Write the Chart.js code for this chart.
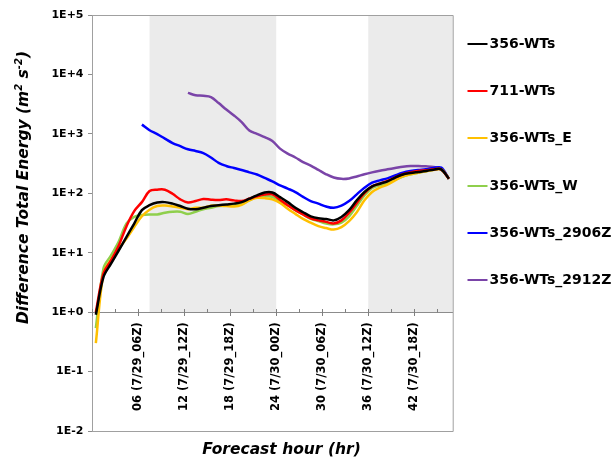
<!DOCTYPE html>
<html>
<head>
<meta charset="utf-8">
<style>
  html, body { margin: 0; padding: 0; background: #fff; }
  #wrap { width: 616px; height: 462px; }
</style>
<script src="https://cdn.jsdelivr.net/npm/chart.js@4.4.1/dist/chart.umd.min.js"></script>
</head>
<body>
<div id="wrap"><canvas id="c" width="616" height="462"></canvas></div>
<script>
// ---------------- data ----------------
const hours = [0.5, 1.5, 2.5, 3.5, 4.5, 5.5, 6.5, 7.5, 8.5, 9.5, 10.5, 11.5, 12.5, 13.5, 14.5, 15.5,
  16.5, 17.5, 18.5, 19.5, 20.5, 21.5, 22.5, 23.5, 24.5, 25.5, 26.5, 27.5, 28.5, 29.5, 30.5, 31.5,
  32.5, 33.5, 34.5, 35.5, 36.5, 37.5, 38.5, 39.5, 40.5, 41.5, 42.5, 43.5, 44.5, 45.5, 46.5];

const seriesNames = ['356-WTs', '711-WTs', '356-WTs_E', '356-WTs_W', '356-WTs_2906Z', '356-WTs_2912Z'];

const wts356 = [0.9, 3.9, 6.6, 11, 18.5, 31, 52, 63, 70, 71, 67, 61, 55, 54,
  57, 61, 63, 65, 67, 71, 81, 92, 103, 103, 86, 71, 57, 48, 41, 38,
  37, 35, 40, 52, 76, 105, 131, 145, 159, 184, 207, 219, 228, 237, 250, 253, 176];

const wts711 = [1.0, 4.5, 7.5, 13.4, 28, 50, 71, 109, 115, 115, 98, 79, 70, 74,
  80, 78, 77, 79, 76, 74, 81, 89, 95, 96, 78, 63, 52, 44, 38, 35,
  33, 31, 35, 47, 69, 101, 131, 145, 161, 184, 209, 225, 237, 244, 253, 253, 176];

const wts356E = [0.3, 4.5, 7.7, 11.8, 17.3, 27, 41, 53, 61, 62, 60, 57, 54, 57,
  57, 62, 62, 61, 60, 64, 76, 84, 83, 79, 69, 55, 45, 37, 32, 28,
  26, 24.5, 27, 34, 48, 76, 105, 124, 140, 165, 192, 209, 222, 234, 247, 253, 176];

const wts356W = [0.54, 5.5, 9.1, 15.6, 31, 40, 43, 44, 44, 47, 49, 49, 45, 49,
  54, 57, 61, 62, 63, 66, 76, 87, 90, 87, 74, 63, 52, 44, 37, 34,
  31, 30, 32, 41, 61, 92, 123, 136, 145, 170, 192, 209, 222, 234, 250, 253, 176];

const wts2906Z = [null, null, null, null, null, null,
  1430, 1150, 993, 830, 700, 620, 550, 515, 475, 400, 325, 288, 266, 246, 225, 207, 181, 159,
  136, 120, 105, 87, 74, 67, 60, 57, 62, 74, 96, 124, 151, 165, 178, 200, 222, 237, 247, 253, 266, 270, 176];

const wts2912Z = [null, null, null, null, null, null, null, null, null, null, null, null,
  4900, 4470, 4370, 4160, 3300, 2560, 2040, 1580, 1140, 1000, 880, 760, 565, 465, 400, 335,
  292, 247, 209, 184, 175, 178, 192, 209, 225, 240, 253, 266, 280, 288, 288, 284, 277, 257, 176];

const xTickValues = [0, 3, 6, 9, 12, 15, 18, 21, 24, 27, 30, 33, 36, 39, 42, 45];
const xTickLabels = ['', '', '06 (7/29_06Z)', '', '12 (7/29_12Z)', '', '18 (7/29_18Z)', '',
  '24 (7/30_00Z)', '', '30 (7/30_06Z)', '', '36 (7/30_12Z)', '', '42 (7/30_18Z)', ''];

const yTickValues = [0.01, 0.1, 1, 10, 100, 1000, 10000, 100000];
const yTickLabels = ['1E-2', '1E-1', '1E+0', '1E+1', '1E+2', '1E+3', '1E+4', '1E+5'];

// shaded periods [start hour, end hour]
const shadeStart = [7.5, 36];
const shadeEnd = [24, 47];

// ---------------- styling ----------------
const colors = ['#000000', '#ff0000', '#ffc000', '#8fcf4c', '#0000ff', '#7a44a8'];
const FONT = '"DejaVu Sans", "Liberation Sans", sans-serif';
const legendRowY = [44, 91, 138, 186, 233, 280];

const allSeries = [wts356, wts711, wts356E, wts356W, wts2906Z, wts2912Z];
const datasets = allSeries.map((arr, i) => ({
  label: seriesNames[i],
  data: hours.map((h, k) => ({ x: h, y: arr[k] })),
  borderColor: colors[i],
  backgroundColor: colors[i],
  borderWidth: 2.5,
  pointRadius: 0,
  tension: 0.35,
  fill: false,
  spanGaps: false
}));

const decor = {
  id: 'decor',
  beforeDraw(chart) {
    const { ctx, scales: { x, y } } = chart;
    ctx.save();
    ctx.fillStyle = '#ffffff';
    ctx.fillRect(0, 0, chart.width, chart.height);
    ctx.fillStyle = '#ebebeb';
    const yTop = y.getPixelForValue(100000);
    const yBot = y.getPixelForValue(1);
    for (let i = 0; i < shadeStart.length; i++) {
      const x0 = x.getPixelForValue(shadeStart[i]);
      const x1 = x.getPixelForValue(shadeEnd[i]);
      ctx.fillRect(x0, yTop, x1 - x0, yBot - yTop);
    }
    ctx.restore();
  },
  afterDraw(chart) {
    const { ctx, chartArea: a, scales: { x, y } } = chart;
    ctx.save();
    // frame
    ctx.strokeStyle = '#a0a0a0';
    ctx.lineWidth = 1;
    ctx.beginPath();
    ctx.moveTo(a.left, a.top + 0.5);
    ctx.lineTo(a.right + 0.5, a.top + 0.5);
    ctx.lineTo(a.right + 0.5, a.bottom + 0.5);
    ctx.lineTo(a.left, a.bottom + 0.5);
    ctx.stroke();
    // x tick marks (major cross, minor inside)
    const y0 = Math.round(y.getPixelForValue(1)) + 0.5;
    ctx.strokeStyle = '#7f7f7f';
    ctx.beginPath();
    x.ticks.forEach(t => {
      const px = Math.round(x.getPixelForValue(t.value)) + 0.5;
      const major = t.value % 6 === 0;
      ctx.moveTo(px, y0 - 3.5);
      ctx.lineTo(px, major ? y0 + 3.5 : y0);
    });
    ctx.stroke();
    // legend
    ctx.font = 'bold 14px ' + FONT;
    ctx.textBaseline = 'middle';
    ctx.textAlign = 'left';
    chart.data.datasets.forEach((ds, i) => {
      const ly = legendRowY[i];
      ctx.strokeStyle = ds.borderColor;
      ctx.lineWidth = 2;
      ctx.beginPath();
      ctx.moveTo(467.5, ly);
      ctx.lineTo(487.5, ly);
      ctx.stroke();
      ctx.fillStyle = '#000';
      ctx.fillText(ds.label, 489.5, ly + 0.5);
    });
    // x title
    ctx.fillStyle = '#000';
    ctx.font = 'italic bold 15.5px ' + FONT;
    ctx.textAlign = 'center';
    ctx.fillText('Forecast hour (hr)', 281.5, 449.5);
    // y title with superscripts
    const parts = [
      ['Difference Total Energy (m', false], ['2', true], [' s', false], ['-2', true], [')', false]
    ];
    const mainFont = 'italic bold 15.5px ' + FONT;
    const supFont = 'italic bold 10px ' + FONT;
    let total = 0;
    parts.forEach(p => { ctx.font = p[1] ? supFont : mainFont; total += ctx.measureText(p[0]).width; });
    ctx.translate(24, 187.5);
    ctx.rotate(-Math.PI / 2);
    ctx.textAlign = 'left';
    let cx = -total / 2;
    parts.forEach(p => {
      ctx.font = p[1] ? supFont : mainFont;
      ctx.fillText(p[0], cx, p[1] ? -5 : 0);
      cx += ctx.measureText(p[0]).width;
    });
    ctx.restore();
  }
};

new Chart(document.getElementById('c'), {
  type: 'line',
  data: { datasets },
  plugins: [decor],
  options: {
    responsive: false,
    animation: false,
    devicePixelRatio: 1,
    layout: { padding: { left: 0, top: 15, right: 163.3, bottom: 31 } },
    plugins: { legend: { display: false }, tooltip: { enabled: false }, title: { display: false } },
    scales: {
      x: {
        type: 'linear',
        min: 0,
        max: 47,
        position: { y: 1 },
        afterFit: s => { s.height = 0; },
        afterBuildTicks: s => { s.ticks = xTickValues.map(v => ({ value: v })); },
        grid: { display: false, drawTicks: false },
        border: { display: true, color: '#8c8c8c', width: 1 },
        ticks: {
          autoSkip: false,
          minRotation: 90,
          maxRotation: 90,
          padding: 10,
          color: '#000',
          font: { family: FONT, weight: 'bold', size: 11.5 },
          callback: (v, i) => xTickLabels[i]
        }
      },
      y: {
        type: 'logarithmic',
        min: 0.01,
        max: 100000,
        position: 'left',
        afterFit: s => { s.width = 92; },
        afterBuildTicks: s => { s.ticks = yTickValues.map(v => ({ value: v })); },
        grid: { display: true, drawOnChartArea: false, drawTicks: true, tickLength: 4, color: '#8c8c8c' },
        border: { display: true, color: '#a0a0a0', width: 1 },
        ticks: {
          autoSkip: false,
          padding: 4.5,
          color: '#000',
          font: { family: FONT, weight: 'bold', size: 11 },
          callback: (v, i) => yTickLabels[i]
        }
      }
    }
  }
});
</script>
</body>
</html>
